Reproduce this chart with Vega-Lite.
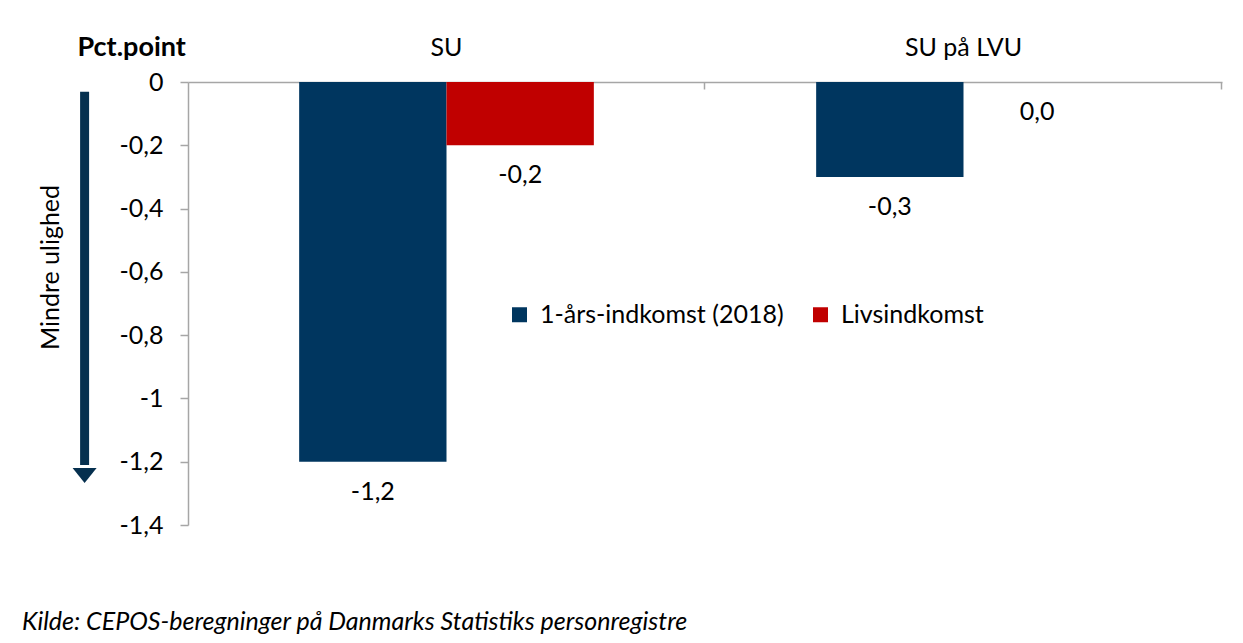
{
  "$schema": "https://vega.github.io/schema/vega-lite/v6.json",
  "width": 1034,
  "height": 443,
  "autosize": {"type": "none"},
  "padding": {"left": 188, "top": 82, "right": 21, "bottom": 118},
  "background": "white",
  "config": {
    "font": "Lato",
    "view": {"stroke": null},
    "axis": {"labelFont": "Lato", "titleFont": "Lato", "labelColor": "#000000", "titleColor": "#000000"},
    "legend": {"labelFont": "Lato"}
  },
  "title": {
    "text": "Kilde: CEPOS-beregninger på Danmarks Statistiks personregistre",
    "orient": "bottom",
    "anchor": "start",
    "frame": "group",
    "dx": -166,
    "offset": 72,
    "font": "Lato",
    "fontSize": 25,
    "fontStyle": "italic",
    "fontWeight": "normal",
    "color": "#000000"
  },
  "datasets": {
    "bars": [
      {"cat": "SU", "serie": "1-års-indkomst (2018)", "value": -1.2, "label": "-1,2"},
      {"cat": "SU", "serie": "Livsindkomst", "value": -0.2, "label": "-0,2"},
      {"cat": "SU på LVU", "serie": "1-års-indkomst (2018)", "value": -0.3, "label": "-0,3"},
      {"cat": "SU på LVU", "serie": "Livsindkomst", "value": 0.0, "label": "0,0"}
    ],
    "arrow": [
      {"ax": -0.1, "value": -0.031, "end": -1.21}
    ],
    "head": [
      {"ax": -0.1, "value": -1.2435}
    ]
  },
  "encoding": {
    "y": {
      "field": "value",
      "type": "quantitative",
      "scale": {"domain": [-1.4, 0], "nice": false, "zero": false},
      "axis": {
        "title": "Mindre ulighed",
        "titleFontSize": 25,
        "titleFontWeight": "normal",
        "titleAngle": 270,
        "titleX": -138,
        "titleY": 185,
        "titleAlign": "center",
        "titleBaseline": "middle",
        "values": [0, -0.2, -0.4, -0.6, -0.8, -1, -1.2, -1.4],
        "labelExpr": "replace(datum.value + '', '.', ',')",
        "labelFontSize": 25,
        "labelPadding": 17,
        "tickSize": 8,
        "tickColor": "#a6a6a6",
        "domainColor": "#a6a6a6",
        "domainWidth": 1.5,
        "tickWidth": 1.5,
        "grid": false
      }
    }
  },
  "layer": [
    {
      "data": {"name": "bars"},
      "encoding": {
        "x": {
          "field": "cat",
          "type": "nominal",
          "sort": ["SU", "SU på LVU"],
          "scale": {"paddingInner": 0.43, "paddingOuter": 0.215},
          "axis": {
            "orient": "top",
            "title": "Pct.point",
            "titleFontSize": 27,
            "titleFontWeight": "bold",
            "titleX": -111,
            "titleY": -27,
            "titleAlign": "left",
            "titleBaseline": "alphabetic",
            "titleAnchor": null,
            "labelAngle": 0,
            "labelFontSize": 25,
            "labelPadding": 29,
            "tickSize": -7,
            "bandPosition": 1.377,
            "tickColor": "#a6a6a6",
            "domainColor": "#a6a6a6",
            "domainWidth": 1.5,
            "tickWidth": 1.5,
            "grid": false
          }
        },
        "xOffset": {
          "field": "serie",
          "type": "nominal",
          "sort": ["1-års-indkomst (2018)", "Livsindkomst"],
          "scale": {"paddingInner": 0, "paddingOuter": 0}
        }
      },
      "layer": [
        {
          "mark": {"type": "bar"},
          "encoding": {
            "color": {
              "field": "serie",
              "type": "nominal",
              "sort": ["1-års-indkomst (2018)", "Livsindkomst"],
              "scale": {"range": ["#00365f", "#c00000"]},
              "legend": {
                "title": null,
                "orient": "none",
                "legendX": 319,
                "legendY": 220,
                "direction": "horizontal",
                "symbolType": "square",
                "symbolSize": 225,
                "symbolStrokeWidth": 0,
                "labelFontSize": 25,
                "labelColor": "#000000",
                "labelOffset": 8,
                "labelLimit": 0,
                "columnPadding": 24
              }
            }
          }
        },
        {
          "mark": {"type": "text", "dy": 30, "baseline": "middle", "fontSize": 25, "font": "Lato", "color": "#000000"},
          "encoding": {
            "text": {"field": "label", "type": "nominal"}
          }
        }
      ]
    },
    {
      "layer": [
        {
          "data": {"name": "arrow"},
          "mark": {"type": "rule", "strokeWidth": 9, "color": "#06304f", "clip": false},
          "encoding": {
            "x": {"field": "ax", "type": "quantitative", "scale": {"domain": [0, 1], "nice": false, "zero": false}, "axis": null},
            "y2": {"field": "end"}
          }
        },
        {
          "data": {"name": "head"},
          "mark": {"type": "point", "shape": "M-1,-0.62L1,-0.62L0,0.62Z", "filled": true, "size": 576, "opacity": 1, "color": "#06304f", "strokeWidth": 0, "clip": false},
          "encoding": {
            "x": {"field": "ax", "type": "quantitative", "scale": {"domain": [0, 1], "nice": false, "zero": false}, "axis": null}
          }
        }
      ]
    }
  ],
  "resolve": {"scale": {"x": "independent"}}
}
